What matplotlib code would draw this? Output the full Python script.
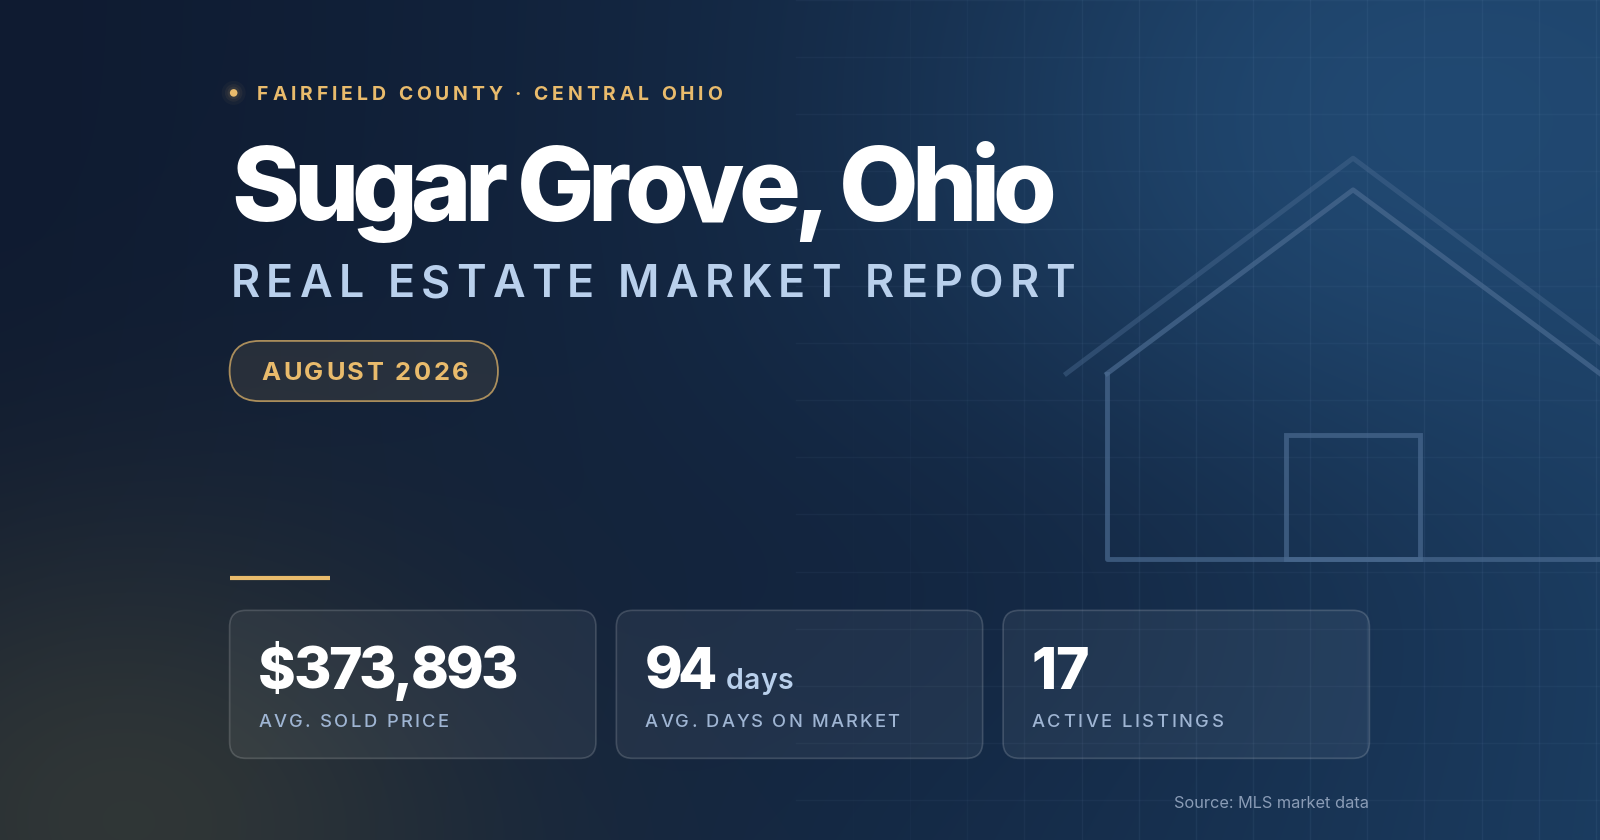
import matplotlib
matplotlib.use("Agg")
import matplotlib.pyplot as plt
import numpy as np
from matplotlib.patches import FancyBboxPatch, Rectangle
from matplotlib.textpath import TextPath
from matplotlib.font_manager import FontProperties
import matplotlib.colors as mcolors

W, H = 1568, 823
FONT = "Inter"
GOLD = "#e9bb6c"
PALE = "#b9d0ec"
LABEL = "#9fb5d3"
WHITE = "#ffffff"

region = "FAIRFIELD COUNTY · CENTRAL OHIO"
city = "Sugar Grove, Ohio"
subtitle = "REAL ESTATE MARKET REPORT"
period = "AUGUST 2026"
stat_values = ["$373,893", "94", "17"]
stat_units = ["", "days", ""]
stat_labels = ["AVG. SOLD PRICE", "AVG. DAYS ON MARKET", "ACTIVE LISTINGS"]
source = "Source: MLS market data"

PX2PT = 72 / 100 * (1600 / W)  # ref pixel -> points


def _advance(ch, fp):
    ref = TextPath((0, 0), "||", prop=fp).get_extents().width
    return TextPath((0, 0), "|" + ch + "|", prop=fp).get_extents().width - ref


def spaced(ax, x, y, s, size_px, width_px, color, weight="normal"):
    # draw text char by char, spreading it to span width_px
    fs = size_px * PX2PT
    fp = FontProperties(family=FONT, weight=weight, size=fs)
    advs = [_advance(ch, fp) / PX2PT for ch in s]
    last = TextPath((0, 0), s[-1], prop=fp).get_extents().width / PX2PT
    natural = sum(advs[:-1]) + last
    gap = (width_px - natural) / max(len(s) - 1, 1)
    cx = x
    for ch, a in zip(s, advs):
        ax.text(cx, y, ch, fontproperties=fp, color=color, ha="left", va="baseline")
        cx += a + gap


# background
yy, xx = np.mgrid[0:H, 0:W]
left = np.array(mcolors.to_rgb("#0f1b31"))
right = np.array(mcolors.to_rgb("#1b3c60"))
t = (xx / W)[..., None] ** 1.3
img = left * (1 - t) + right * t
g1 = np.exp(-(((xx - 1380) / 420) ** 2 + ((yy - 120) / 330) ** 2))[..., None]
img = img * (1 - 0.7 * g1) + np.array(mcolors.to_rgb("#24507c")) * 0.7 * g1
g2 = np.exp(-(((xx - 120) / 380) ** 2 + ((yy - 800) / 300) ** 2))[..., None]
img = img * (1 - 0.75 * g2) + np.array(mcolors.to_rgb("#3b3f38")) * 0.75 * g2
g3 = np.exp(-(((xx - 900) / 500) ** 2 + ((yy - 560) / 200) ** 2))[..., None]
img = img * (1 - 0.35 * g3) + np.array(mcolors.to_rgb("#101d34")) * 0.35 * g3

fig = plt.figure(figsize=(16, 8.4), dpi=100)
ax = fig.add_axes([0, 0, 1, 1])
ax.imshow(np.clip(img, 0, 1), extent=(0, W, H, 0), aspect="auto", zorder=0)
ax.set_xlim(0, W)
ax.set_ylim(H, 0)
ax.axis("off")

# faint grid on right side
for gx in np.arange(780, W, 56):
    a = 0.07 * min(1, (gx - 780) / 300)
    ax.plot([gx, gx], [0, H], color="#8fb3dd", alpha=a, lw=1, zorder=1)
for gy in np.arange(0, H, 56):
    ax.plot([780, W], [gy, gy], color="#8fb3dd", alpha=0.05, lw=1, zorder=1)

# house outline
hc = "#4a6a90"
ax.plot([1045, 1326, 1580], [366, 155, 345], color=hc, lw=3.5, alpha=0.45, zorder=2)
ax.plot([1085, 1326, 1580], [366, 186, 375], color=hc, lw=3.5, alpha=0.7, zorder=2)
ax.plot([1085, 1085, 1568], [366, 548, 548], color=hc, lw=3.5, alpha=0.7, zorder=2)
ax.add_patch(Rectangle((1260, 426), 132, 122, fill=False, ec=hc, lw=3.5, alpha=0.7, zorder=2))

# header
for s_, a_ in [(300, 0.04), (160, 0.06), (80, 0.08)]:
    ax.scatter([229], [91], s=s_, color=GOLD, alpha=a_, zorder=3, edgecolors="none")
ax.scatter([229], [91], s=30, color=GOLD, zorder=4, edgecolors="none")
spaced(ax, 252, 98, region, 19, 454, GOLD, weight="bold")
spaced(ax, 227, 217, city, 101, 801, WHITE, weight="heavy")
spaced(ax, 226, 291, subtitle, 44, 824, PALE, weight="semibold")

pill = FancyBboxPatch((225, 334), 263, 59, boxstyle="round,pad=0,rounding_size=29.5",
                      fc=(0.91, 0.73, 0.42, 0.1), ec=(0.91, 0.73, 0.42, 0.7), lw=1.3, zorder=3)
ax.add_patch(pill)
spaced(ax, 256, 372, period, 25, 201, GOLD, weight="bold")

ax.plot([225, 323], [566, 566], color=GOLD, lw=3, solid_capstyle="butt", zorder=3)

# stat cards
value_w = [250, 66, 52]
unit_w = [0, 64, 0]
label_w = [184, 248, 186]
for i, (val, unit, lab) in enumerate(zip(stat_values, stat_units, stat_labels)):
    x0 = 225 + i * 379
    card = FancyBboxPatch((x0, 598), 359, 145, boxstyle="round,pad=0,rounding_size=16",
                          fc=(1, 1, 1, 0.06), ec=(1, 1, 1, 0.16), lw=1.2, zorder=3)
    ax.add_patch(card)
    spaced(ax, x0 + 28, 675, val, 56, value_w[i], WHITE, weight="heavy")
    if unit:
        spaced(ax, x0 + 107, 675, unit, 28, unit_w[i], PALE, weight="semibold")
    spaced(ax, x0 + 28, 712, lab, 18, label_w[i], LABEL, weight="medium")

ax.text(1342, 792, source, fontsize=16 * PX2PT, family=FONT, color="#8a9cb6", ha="right", va="baseline")

fig.savefig("out.png", dpi=100)
